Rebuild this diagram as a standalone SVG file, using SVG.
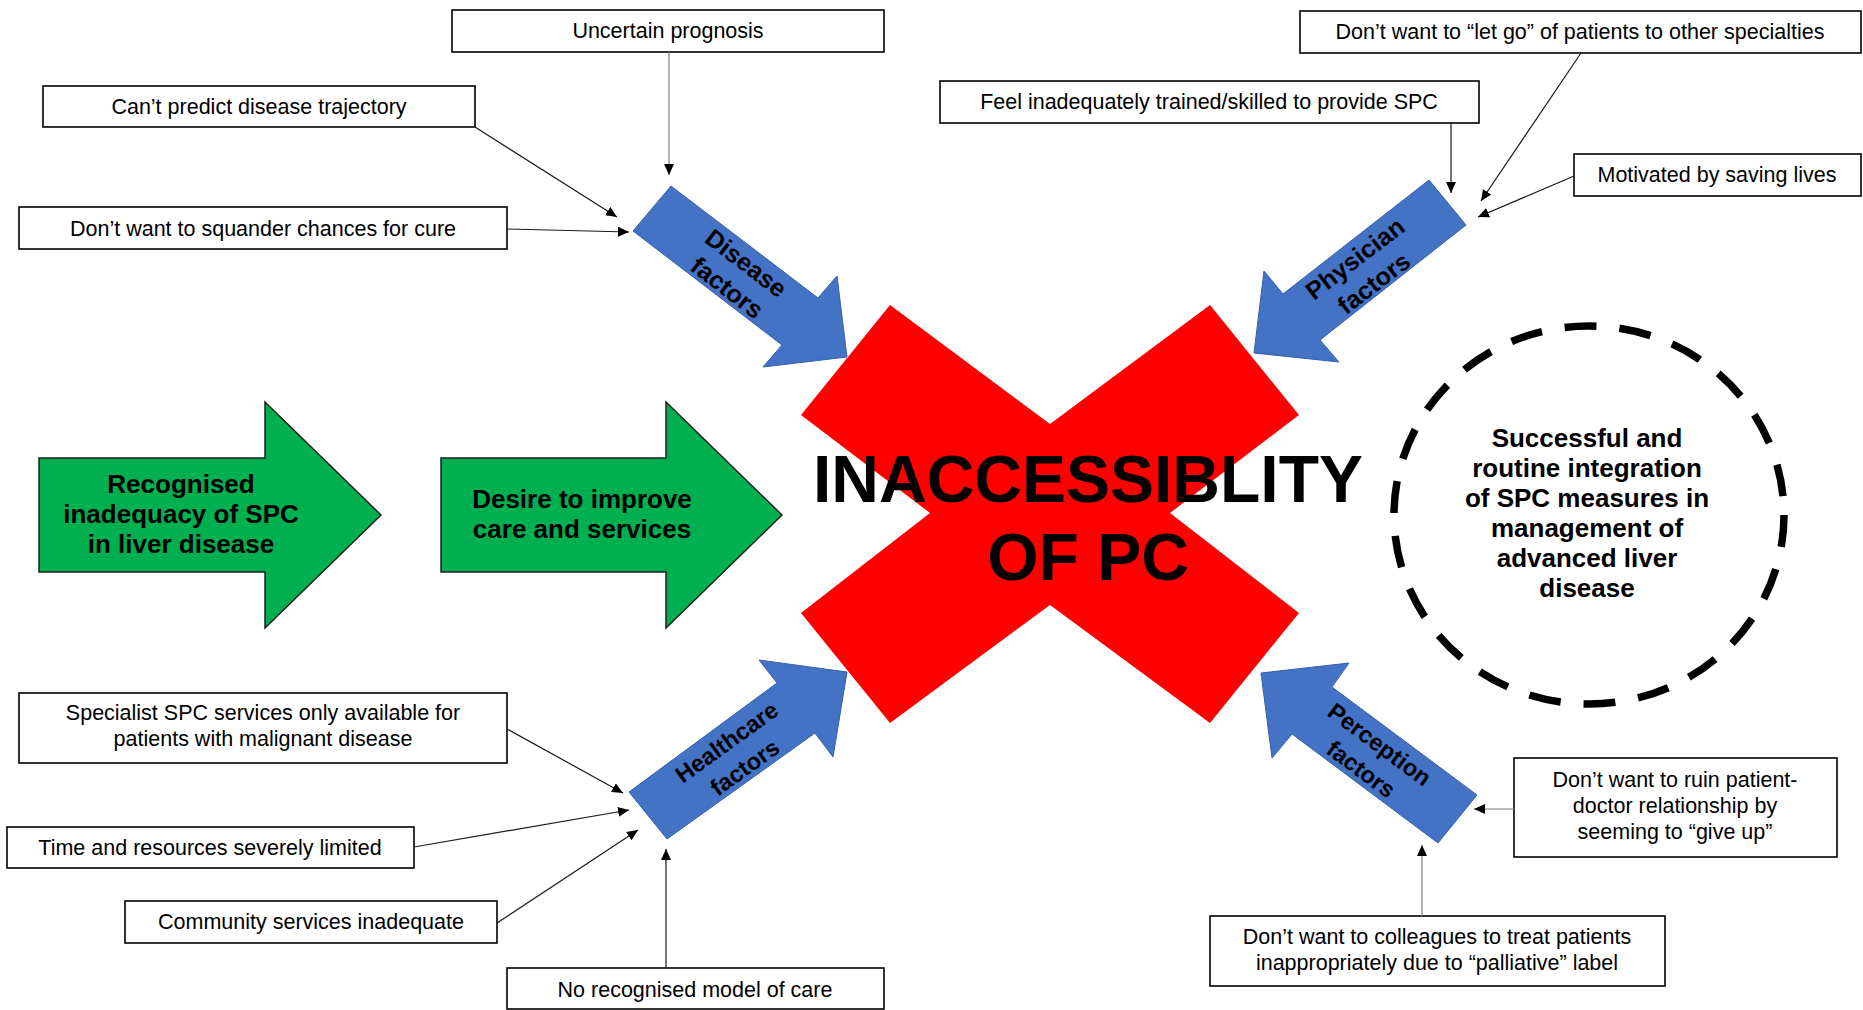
<svg xmlns="http://www.w3.org/2000/svg" width="1863" height="1010" viewBox="0 0 1863 1010">
<style>
  .box rect { fill: #ffffff; stroke: #000000; stroke-width: 1.6; }
  .box text { font-family: "Liberation Sans", Arial, sans-serif; font-size: 21.5px; fill: #000000; text-anchor: middle; }
  .green { fill: #00B050; stroke: #1f1f1f; stroke-width: 1.5; }
  .blue { fill: #4472C4; stroke: #3560AA; stroke-width: 1; }
  .gtext { font-family: "Liberation Sans", Arial, sans-serif; font-weight: bold; font-size: 26px; fill: #000; text-anchor: middle; }
  .btext { font-family: "Liberation Sans", Arial, sans-serif; font-weight: bold; fill: #000; text-anchor: middle; }
  .conn path { fill: none; stroke: #1a1a1a; stroke-width: 1.2; marker-end: url(#ah); }
  .conn path.grey { stroke: #7f7f7f; }
</style>
<defs>
  <marker id="ah" markerUnits="userSpaceOnUse" markerWidth="12" markerHeight="10" refX="11" refY="5" orient="auto">
    <path d="M0,0 L11,5 L0,10 Z" fill="#000"/>
  </marker>
</defs>
<rect width="1863" height="1010" fill="#ffffff"/>

<!-- Red X -->
<g id="red-x">
  <polygon fill="#FF0000" points="1050,424 1210,305 1299,415 1170,513 1299,613 1210,723 1050,605 890,723 801,613 930,513 801,415 890,305"/>
  <text x="1088" y="502" font-family="Liberation Sans, Arial, sans-serif" font-weight="bold" font-size="66" text-anchor="middle" fill="#000">INACCESSIBLITY</text>
  <text x="1088" y="580" font-family="Liberation Sans, Arial, sans-serif" font-weight="bold" font-size="66" text-anchor="middle" fill="#000">OF PC</text>
</g>

<!-- Green arrows -->
<g id="recognised">
  <polygon class="green" points="39,458 265,458 265,402 381,515 265,628 265,572 39,572"/>
  <text class="gtext"><tspan x="181" y="493">Recognised</tspan><tspan x="181" y="523">inadequacy of SPC</tspan><tspan x="181" y="553">in liver disease</tspan></text>
</g>
<g id="desire">
  <polygon class="green" points="441,458 666,458 666,402 782,515 666,628 666,572 441,572"/>
  <text class="gtext"><tspan x="582" y="508">Desire to improve</tspan><tspan x="582" y="538">care and services</tspan></text>
</g>

<!-- Blue arrows -->
<g id="disease-factors">
  <polygon class="blue" points="671,186 818,298 837,276 847,357 763,367 782,345 633,231"/>
  <text class="btext" font-size="25" transform="translate(736.5,275.5) rotate(37.5)"><tspan x="0" y="-7">Disease</tspan><tspan x="0" y="24">factors</tspan></text>
</g>
<g id="physician-factors">
  <polygon class="blue" points="1429,180 1283,294 1264,271 1254,353 1339,362 1320,340 1466,225"/>
  <text class="btext" font-size="25" transform="translate(1364.5,271) rotate(-37.5)"><tspan x="0" y="-7">Physician</tspan><tspan x="0" y="24">factors</tspan></text>
</g>
<g id="healthcare-factors">
  <polygon class="blue" points="629,792 777,683 759,660 847,672 833,757 815,733 667,839"/>
  <text class="btext" font-size="23.5" transform="translate(735.5,754.5) rotate(-35.8)"><tspan x="0" y="-7">Healthcare</tspan><tspan x="0" y="24">factors</tspan></text>
</g>
<g id="perception-factors">
  <polygon class="blue" points="1477,795 1332,687 1349,663 1261,673 1272,758 1292,734 1438,843"/>
  <text class="btext" font-size="23.5" transform="translate(1370.5,756.5) rotate(36.6)"><tspan x="0" y="-7">Perception</tspan><tspan x="0" y="24">factors</tspan></text>
</g>

<!-- Goal circle -->
<g id="goal">
  <ellipse cx="1589" cy="515" rx="195" ry="189" fill="none" stroke="#000" stroke-width="7.5" stroke-dasharray="32 23"/>
  <text class="gtext"><tspan x="1587" y="447">Successful and</tspan><tspan x="1587" y="477">routine integration</tspan><tspan x="1587" y="507">of SPC measures in</tspan><tspan x="1587" y="537">management of</tspan><tspan x="1587" y="567">advanced liver</tspan><tspan x="1587" y="597">disease</tspan></text>
</g>

<!-- Factor boxes -->
<g id="uncertain-prognosis" class="box"><rect x="452" y="10" width="432" height="42"/><text x="668" y="38">Uncertain prognosis</text></g>
<g id="cant-predict" class="box"><rect x="43" y="86" width="432" height="41"/><text x="259" y="114">Can’t predict disease trajectory</text></g>
<g id="squander" class="box"><rect x="19" y="207" width="488" height="42"/><text x="263" y="236">Don’t want to squander chances for cure</text></g>
<g id="let-go" class="box"><rect x="1300" y="11" width="561" height="42"/><text x="1580" y="39">Don’t want to “let go” of patients to other specialties</text></g>
<g id="feel-inadequate" class="box"><rect x="940" y="81" width="539" height="42"/><text x="1209" y="109">Feel inadequately trained/skilled to provide SPC</text></g>
<g id="motivated" class="box"><rect x="1574" y="154" width="287" height="42"/><text x="1717" y="182">Motivated by saving lives</text></g>
<g id="specialist" class="box"><rect x="19" y="693" width="488" height="70"/><text><tspan x="263" y="720">Specialist SPC services only available for</tspan><tspan x="263" y="746">patients with malignant disease</tspan></text></g>
<g id="time-resources" class="box"><rect x="7" y="827" width="407" height="41"/><text x="210" y="855">Time and resources severely limited</text></g>
<g id="community" class="box"><rect x="125" y="901" width="372" height="42"/><text x="311" y="929">Community services inadequate</text></g>
<g id="no-model" class="box"><rect x="507" y="968" width="377" height="41"/><text x="695" y="997">No recognised model of care</text></g>
<g id="ruin-relationship" class="box"><rect x="1514" y="758" width="323" height="99"/><text><tspan x="1675" y="787">Don’t want to ruin patient-</tspan><tspan x="1675" y="813">doctor relationship by</tspan><tspan x="1675" y="839">seeming to “give up”</tspan></text></g>
<g id="colleagues" class="box"><rect x="1210" y="916" width="455" height="70"/><text><tspan x="1437" y="944">Don’t want to colleagues to treat patients</tspan><tspan x="1437" y="970">inappropriately due to “palliative” label</tspan></text></g>

<!-- Connectors -->
<g id="connectors" class="conn">
  <path class="grey" d="M669,52 L669,175"/>
  <path d="M475,127 L617,217"/>
  <path d="M507,229 L629,232"/>
  <path d="M1451,123 L1451,193"/>
  <path d="M1581,53 L1481,201"/>
  <path d="M1574,176 L1478,217"/>
  <path d="M507,729 L623,793"/>
  <path d="M414,847 L629,810"/>
  <path d="M497,923 L638,830"/>
  <path d="M666,968 L666,849"/>
  <path class="grey" d="M1514,809 L1474,809"/>
  <path class="grey" d="M1422,916 L1422,845"/>
</g>
</svg>
